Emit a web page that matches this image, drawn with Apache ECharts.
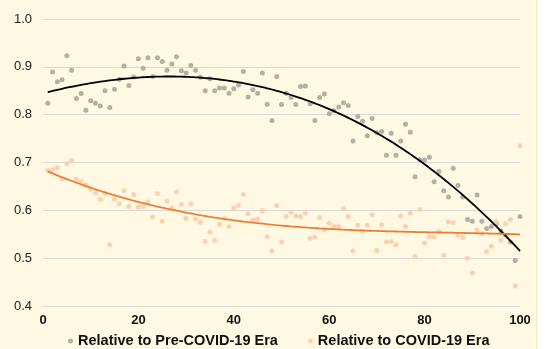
<!DOCTYPE html>
<html>
<head>
<meta charset="utf-8">
<script src="https://cdn.jsdelivr.net/npm/echarts@6/dist/echarts.min.js"></script>
<style>
  html, body { margin: 0; padding: 0; background: #ffffff; }
  #chart { width: 536px; height: 349px; background: #fff8e3; border-right: 1px solid #f6e7bf; }
</style>
</head>
<body>
<div id="chart"></div>
<script>
// Percentile positions 1..100
const positions = Array.from({ length: 100 }, (_, i) => i + 1);

// Ratio relative to the pre-COVID-19 era
const preCovid = [
  0.824, 0.889, 0.869, 0.873, 0.923, 0.893, 0.834, 0.844, 0.809, 0.829,
  0.824, 0.818, 0.850, 0.815, 0.853, 0.874, 0.902, 0.861, 0.879, 0.917,
  0.897, 0.919, 0.880, 0.919, 0.911, 0.893, 0.906, 0.921, 0.892, 0.887,
  0.903, 0.893, 0.878, 0.850, 0.875, 0.850, 0.856, 0.856, 0.845, 0.854,
  0.862, 0.890, 0.837, 0.852, 0.845, 0.887, 0.822, 0.788, 0.880, 0.821,
  0.845, 0.836, 0.821, 0.859, 0.860, 0.823, 0.788, 0.836, 0.843, 0.802,
  0.808, 0.816, 0.825, 0.819, 0.745, 0.796, 0.786, 0.756, 0.792, 0.762,
  0.765, 0.715, 0.761, 0.715, 0.745, 0.780, 0.763, 0.670, 0.706, 0.705,
  0.711, 0.660, 0.681, 0.641, 0.628, 0.688, 0.652, 0.628, 0.581, 0.577,
  0.632, 0.577, 0.562, 0.566, 0.572, 0.557, 0.548, 0.534, 0.495, 0.587
];

// Ratio relative to the COVID-19 era
const covid = [
  0.684, 0.685, 0.689, 0.666, 0.698, 0.704, 0.665, 0.660, 0.653, 0.644,
  0.637, 0.623, 0.635, 0.528, 0.623, 0.614, 0.641, 0.608, 0.633, 0.607,
  0.608, 0.618, 0.586, 0.635, 0.577, 0.619, 0.605, 0.639, 0.612, 0.583,
  0.613, 0.582, 0.575, 0.535, 0.554, 0.537, 0.571, 0.583, 0.566, 0.605,
  0.610, 0.633, 0.593, 0.580, 0.582, 0.599, 0.545, 0.515, 0.610, 0.534,
  0.587, 0.596, 0.588, 0.587, 0.594, 0.541, 0.544, 0.585, 0.560, 0.573,
  0.566, 0.566, 0.604, 0.587, 0.515, 0.569, 0.556, 0.569, 0.591, 0.516,
  0.570, 0.534, 0.535, 0.528, 0.588, 0.566, 0.594, 0.504, 0.602, 0.531,
  0.544, 0.544, 0.555, 0.506, 0.576, 0.574, 0.548, 0.543, 0.500, 0.469,
  0.559, 0.551, 0.514, 0.525, 0.576, 0.537, 0.572, 0.581, 0.442, 0.735
];

const xTicks = [0, 20, 40, 60, 80, 100];
const yTicks = [0.4, 0.5, 0.6, 0.7, 0.8, 0.9, 1.0];

const seriesNames = ['Relative to Pre-COVID-19 Era', 'Relative to COVID-19 Era'];

// Least-squares polynomial fit (x scaled to [0,1] for conditioning)
function polyFit(xs, ys, order) {
  const s = 100;
  const n = order + 1;
  const A = Array.from({ length: n }, () => new Array(n + 1).fill(0));
  for (let k = 0; k < xs.length; k++) {
    const t = xs[k] / s;
    const pw = [];
    for (let i = 0; i < 2 * n; i++) pw.push(Math.pow(t, i));
    for (let i = 0; i < n; i++) {
      for (let j = 0; j < n; j++) A[i][j] += pw[i + j];
      A[i][n] += ys[k] * pw[i];
    }
  }
  for (let c = 0; c < n; c++) {
    let p = c;
    for (let r = c + 1; r < n; r++) if (Math.abs(A[r][c]) > Math.abs(A[p][c])) p = r;
    [A[c], A[p]] = [A[p], A[c]];
    for (let r = 0; r < n; r++) {
      if (r === c) continue;
      const f = A[r][c] / A[c][c];
      for (let j = c; j <= n; j++) A[r][j] -= f * A[c][j];
    }
  }
  const coef = A.map((row, i) => row[n] / row[i]);
  return x => coef.reduce((acc, c, i) => acc + c * Math.pow(x / s, i), 0);
}

function trendPoints(fn) {
  const pts = [];
  for (let x = positions[0]; x <= positions[positions.length - 1]; x += 0.5) pts.push([x, fn(x)]);
  return pts;
}

const preFit = polyFit(positions, preCovid, 3);
const covidFit = polyFit(positions, covid, 3);

const chart = echarts.init(document.getElementById('chart'), null, { renderer: 'canvas' });

chart.setOption({
  backgroundColor: 'transparent',
  animation: false,
  textStyle: { fontFamily: 'Liberation Sans, Arial, sans-serif' },
  grid: { left: 43, right: 16, top: 19, bottom: 43 },
  legend: {
    data: seriesNames.map(name => ({ name, icon: 'circle' })),
    left: 63,
    top: 328,
    itemWidth: 5,
    itemHeight: 5,
    itemGap: 30,
    textStyle: { fontSize: 14.5, lineHeight: 16, fontWeight: 'bold', color: '#111' }
  },
  xAxis: {
    type: 'value',
    min: xTicks[0],
    max: xTicks[xTicks.length - 1],
    interval: 20,
    axisLine: { show: false },
    axisTick: { show: false },
    splitLine: { show: false },
    axisLabel: { fontSize: 13, fontWeight: 'bold', color: '#111', margin: 8 }
  },
  yAxis: {
    type: 'value',
    min: yTicks[0],
    max: yTicks[yTicks.length - 1],
    interval: 0.1,
    axisLine: { show: false },
    axisTick: { show: false },
    splitLine: { lineStyle: { color: '#d9d9d9', width: 1 } },
    axisLabel: {
      fontSize: 13,
      color: '#222',
      margin: 11,
      formatter: v => v.toFixed(1)
    }
  },
  series: [
    {
      name: seriesNames[0],
      type: 'scatter',
      symbolSize: 5,
      itemStyle: { color: '#aaa89c', opacity: 0.9 },
      data: positions.map((x, i) => [x, preCovid[i]]),
      z: 2
    },
    {
      name: seriesNames[1],
      type: 'scatter',
      symbolSize: 5,
      itemStyle: { color: '#fbcdab', opacity: 0.9 },
      data: positions.map((x, i) => [x, covid[i]]),
      z: 2
    },
    {
      name: 'preTrend',
      type: 'line',
      showSymbol: false,
      symbol: 'none',
      lineStyle: { color: '#000000', width: 1.8 },
      data: trendPoints(preFit),
      z: 3
    },
    {
      name: 'covidTrend',
      type: 'line',
      showSymbol: false,
      symbol: 'none',
      lineStyle: { color: '#ed7d31', width: 1.8 },
      data: trendPoints(covidFit),
      z: 3
    }
  ]
});
</script>
</body>
</html>
